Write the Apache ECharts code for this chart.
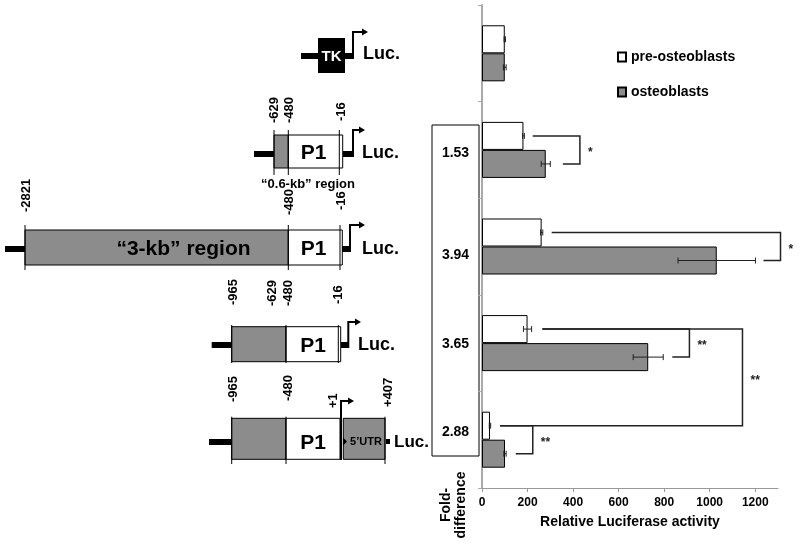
<!DOCTYPE html>
<html><head><meta charset="utf-8">
<script src="https://cdn.jsdelivr.net/npm/echarts@6/dist/echarts.min.js"></script>
<style>html,body{margin:0;padding:0;background:#fff}#c{width:800px;height:545px}</style>
</head><body><div id="c"></div>
<script>
// ---------- data ----------
const categories = ['TK', '-629/-16', '-2821/-16', '-965/-16', '-965/+407'];
const seriesNames = ['pre-osteoblasts', 'osteoblasts'];
const preValues = [100, 182, 262, 200, 35];
const preErrors = [3, 4, 5, 18, 3];
const osteoValues = [100, 280, 1031, 730, 101];
const osteoErrors = [6, 20, 170, 66, 5];
const foldDifference = ['1.53', '3.94', '3.65', '2.88'];
const xTickValues = [0, 200, 400, 600, 800, 1000, 1200];
const sigLabels = ['*', '*', '**', '**', '**'];
// [right, topCat, topSeries, bottomCat, bottomSeries, topStart, bottomStart]
const sigBrackets = [
  [430, 1, 0, 1, 1, 223, 355],
  [1311, 2, 0, 2, 1, 306, 1236],
  [911, 3, 0, 3, 1, 265, 836],
  [223, 4, 0, 4, 1, 79, 148],
  [1144, 3, 0, 4, 0, 265, 79]
];

const FONT = '"Liberation Sans", Arial, sans-serif';
const GRAY = '#8c8c8c';
const ORDER = 1; // first series on top

// ---------- schematic graphics ----------
const G = [];
function R(x, y, w, h, fill, stroke) {
  G.push({type: 'rect', shape: {x, y, width: w, height: h}, silent: true,
    style: {fill, stroke: stroke || null, lineWidth: 1}});
}
function L(x1, y1, x2, y2, lw) {
  G.push({type: 'line', shape: {x1, y1, x2, y2}, silent: true, style: {stroke: '#000', lineWidth: lw || 1}});
}
function T(x, y, s, size, extra) {
  const st = Object.assign({text: s, font: 'bold ' + size + 'px ' + FONT, fill: '#000',
    textAlign: 'center', textVerticalAlign: 'middle', align: 'center', verticalAlign: 'middle'}, extra || {});
  G.push({type: 'text', x, y, silent: true, style: st});
}
function V(x, yBottom, s, size) {
  G.push({type: 'text', x, y: yBottom, rotation: Math.PI / 2, silent: true,
    style: {text: s, font: 'bold ' + (size || 13) + 'px ' + FONT, fill: '#000',
      textAlign: 'left', textVerticalAlign: 'middle', align: 'left', verticalAlign: 'middle'}});
}
function ARROW(x, yBase, yTop, xEnd) {
  G.push({type: 'polyline', silent: true, shape: {points: [[x, yBase], [x, yTop], [xEnd - 4, yTop]]},
    style: {stroke: '#000', lineWidth: 2, fill: null}});
  G.push({type: 'polygon', silent: true, shape: {points: [[xEnd - 6, yTop - 3.5], [xEnd, yTop], [xEnd - 6, yTop + 3.5]]},
    style: {fill: '#000'}});
}

// Row 1: TK
R(301, 53, 17, 6, '#000');
R(318, 38, 27, 35, '#000');
T(331.5, 56.5, 'TK', 15, {fill: '#fff'});
R(345, 53, 8, 6, '#000');
ARROW(353, 59, 32, 368);
T(363, 54, 'Luc.', 18, {textAlign: 'left', align: 'left'});

// Row 2: 0.6-kb
R(254, 151, 20, 6, '#000');
R(274, 135, 14.3, 33, GRAY, '#000');
R(288.3, 135, 54.4, 33, '#fff', '#000');
L(274, 130, 274, 175); L(288.3, 130, 288.3, 175); L(339.3, 130, 339.3, 175);
R(343, 151, 10, 6, '#000');
ARROW(353, 157, 130, 365);
T(313.5, 153, 'P1', 21);
T(362, 153, 'Luc.', 18, {textAlign: 'left', align: 'left'});
V(274, 123, '-629'); V(289, 123, '-480'); V(341, 121, '-16');
T(308, 184, '\u201C0.6-kb\u201D region', 13);

// Row 3: 3-kb
R(5, 246, 20, 6, '#000');
R(25, 230, 263.3, 35, GRAY, '#000');
R(288.3, 230, 54, 35, '#fff', '#000');
L(25, 225, 25, 270); L(288.3, 225, 288.3, 270); L(340, 225, 340, 270);
R(342, 246, 8, 6, '#000');
ARROW(350, 252, 225, 365);
T(183.5, 249, '\u201C3-kb\u201D region', 21);
T(313.5, 249, 'P1', 21);
T(362, 249, 'Luc.', 18, {textAlign: 'left', align: 'left'});
V(26, 212, '-2821'); V(289, 215, '-480'); V(341, 210, '-16');

// Row 4: -965
R(211.7, 342, 20, 6, '#000');
R(231.7, 326.7, 54.3, 35, GRAY, '#000');
R(286, 326.7, 54.7, 35, '#fff', '#000');
L(231.7, 325, 231.7, 363); L(286, 325, 286, 363); L(338.3, 325, 338.3, 363);
R(341, 342, 7.3, 6, '#000');
ARROW(348.3, 348, 322, 361);
T(313, 346, 'P1', 21);
T(358, 345, 'Luc.', 18, {textAlign: 'left', align: 'left'});
V(233, 305, '-965'); V(272, 306, '-629'); V(288, 306, '-480'); V(338.5, 304, '-16');

// Row 5: 5'UTR
R(209, 439, 22.7, 6, '#000');
R(231.7, 418.3, 54.3, 41, GRAY, '#000');
R(286, 418.3, 54, 41, '#fff', '#000');
R(343.3, 418.3, 41.7, 41, GRAY, '#000');
L(231.7, 416.7, 231.7, 464); L(286, 416.7, 286, 464); L(385, 416.7, 385, 464);
ARROW(341, 460, 401, 354);
G.push({type: 'polygon', silent: true, shape: {points: [[343, 437.5], [347, 441.5], [343, 445.5]]}, style: {fill: '#000'}});
R(386, 439, 4, 5, '#000');
T(313, 443, 'P1', 21);
T(366, 442, '5\u2019UTR', 11);
T(394, 442, 'Luc.', 17, {textAlign: 'left', align: 'left'});
V(233.5, 402, '-965'); V(288.5, 401, '-480'); V(333.5, 408, '+1'); V(388.5, 407, '+407');

// Fold-difference box
R(432, 125, 47, 331, '#fff', '#000');
const foldY = [153, 255, 344, 432];
foldDifference.forEach((s, i) => T(455.5, foldY[i], s, 14));
G.push({type: 'text', x: 454, y: 505, rotation: Math.PI / 2, silent: true,
  style: {text: 'Fold-\ndifference', font: 'bold 14px ' + FONT, fill: '#000', lineHeight: 15,
    textAlign: 'center', textVerticalAlign: 'middle', align: 'center', verticalAlign: 'middle'}});

// ---------- custom renderers ----------
function errRender(params, api) {
  const v = api.value(0), c = api.value(1), e = api.value(2), s = api.value(3);
  const band = api.size([0, 1])[1];
  const y = api.coord([v, c])[1] + (s === 0 ? -1 : 1) * ORDER * band * 0.145;
  const x1 = api.coord([v - e, c])[0], x2 = api.coord([v + e, c])[0];
  const st = {stroke: '#222', lineWidth: 1};
  return {type: 'group', children: [
    {type: 'line', shape: {x1, y1: y, x2, y2: y}, style: st},
    {type: 'line', shape: {x1, y1: y - 3, x2: x1, y2: y + 3}, style: st},
    {type: 'line', shape: {x1: x2, y1: y - 3, x2, y2: y + 3}, style: st}
  ]};
}
function bracketRender(params, api) {
  const right = api.value(0), tc = api.value(1), ts = api.value(2), bc = api.value(3), bs = api.value(4);
  const tStart = api.value(5), bStart = api.value(6);
  const band = api.size([0, 1])[1], off = band * 0.145 * ORDER;
  const yT = api.coord([0, tc])[1] + (ts === 0 ? -off : off);
  const yB = api.coord([0, bc])[1] + (bs === 0 ? -off : off);
  const xR = api.coord([right, 0])[0], xT = api.coord([tStart, 0])[0], xB = api.coord([bStart, 0])[0];
  return {type: 'group', children: [
    {type: 'polyline', shape: {points: [[xT, yT], [xR, yT], [xR, yB], [xB, yB]]},
      style: {stroke: '#222', lineWidth: 1.5, fill: null}},
    {type: 'text', x: xR + 8, y: (yT + yB) / 2 + 3,
      style: {text: sigLabels[params.dataIndex], font: 'bold 12px ' + FONT, fill: '#222',
        textAlign: 'left', textVerticalAlign: 'middle', align: 'left', verticalAlign: 'middle'}}
  ]};
}

// ---------- chart ----------
const chart = echarts.init(document.getElementById('c'), null, {renderer: 'canvas'});
chart.setOption({
  animation: false,
  backgroundColor: '#fff',
  textStyle: {fontFamily: FONT},
  grid: {left: 482, right: 22, top: 5, bottom: 57, containLabel: false},
  legend: {
    data: seriesNames, orient: 'vertical', left: 617, top: 49, padding: 0,
    itemWidth: 8, itemHeight: 9, itemGap: 19, icon: 'rect',
    textStyle: {fontFamily: FONT, fontWeight: 'bold', fontSize: 14, color: '#000', lineHeight: 16}
  },
  xAxis: {
    type: 'value', min: 0, max: 1300, interval: 200,
    name: 'Relative Luciferase activity', nameLocation: 'middle', nameGap: 27,
    nameTextStyle: {fontFamily: FONT, fontWeight: 'bold', fontSize: 14, color: '#000'},
    axisLine: {show: true, lineStyle: {color: '#999', width: 1}},
    axisTick: {show: true, length: 4, lineStyle: {color: '#999'}, customValues: xTickValues},
    axisLabel: {fontFamily: FONT, fontWeight: 'bold', fontSize: 12, color: '#000', margin: 9,
      customValues: xTickValues, formatter: v => (xTickValues.indexOf(v) >= 0 ? String(v) : '')},
    splitLine: {show: false}
  },
  yAxis: {
    type: 'category', data: categories, inverse: true,
    axisLine: {show: true, lineStyle: {color: '#aaa', width: 2}},
    axisTick: {show: true, length: 4, lineStyle: {color: '#aaa'}},
    axisLabel: {show: false},
    splitLine: {show: false}
  },
  series: [
    {name: seriesNames[0], type: 'bar', data: preValues, barGap: '0%', barCategoryGap: '42%',
      itemStyle: {color: '#fff', borderColor: '#000', borderWidth: 1}},
    {name: seriesNames[1], type: 'bar', data: osteoValues, barGap: '0%', barCategoryGap: '42%',
      itemStyle: {color: GRAY, borderColor: '#000', borderWidth: 1}},
    {type: 'custom', renderItem: errRender, encode: {x: 0, y: 1}, z: 5,
      data: preValues.map((v, i) => [v, i, preErrors[i], 0])},
    {type: 'custom', renderItem: errRender, encode: {x: 0, y: 1}, z: 5,
      data: osteoValues.map((v, i) => [v, i, osteoErrors[i], 1])},
    {type: 'custom', renderItem: bracketRender, encode: {x: 0, y: 1}, z: 5, clip: false,
      data: sigBrackets}
  ],
  graphic: {elements: G}
});
</script></body></html>
